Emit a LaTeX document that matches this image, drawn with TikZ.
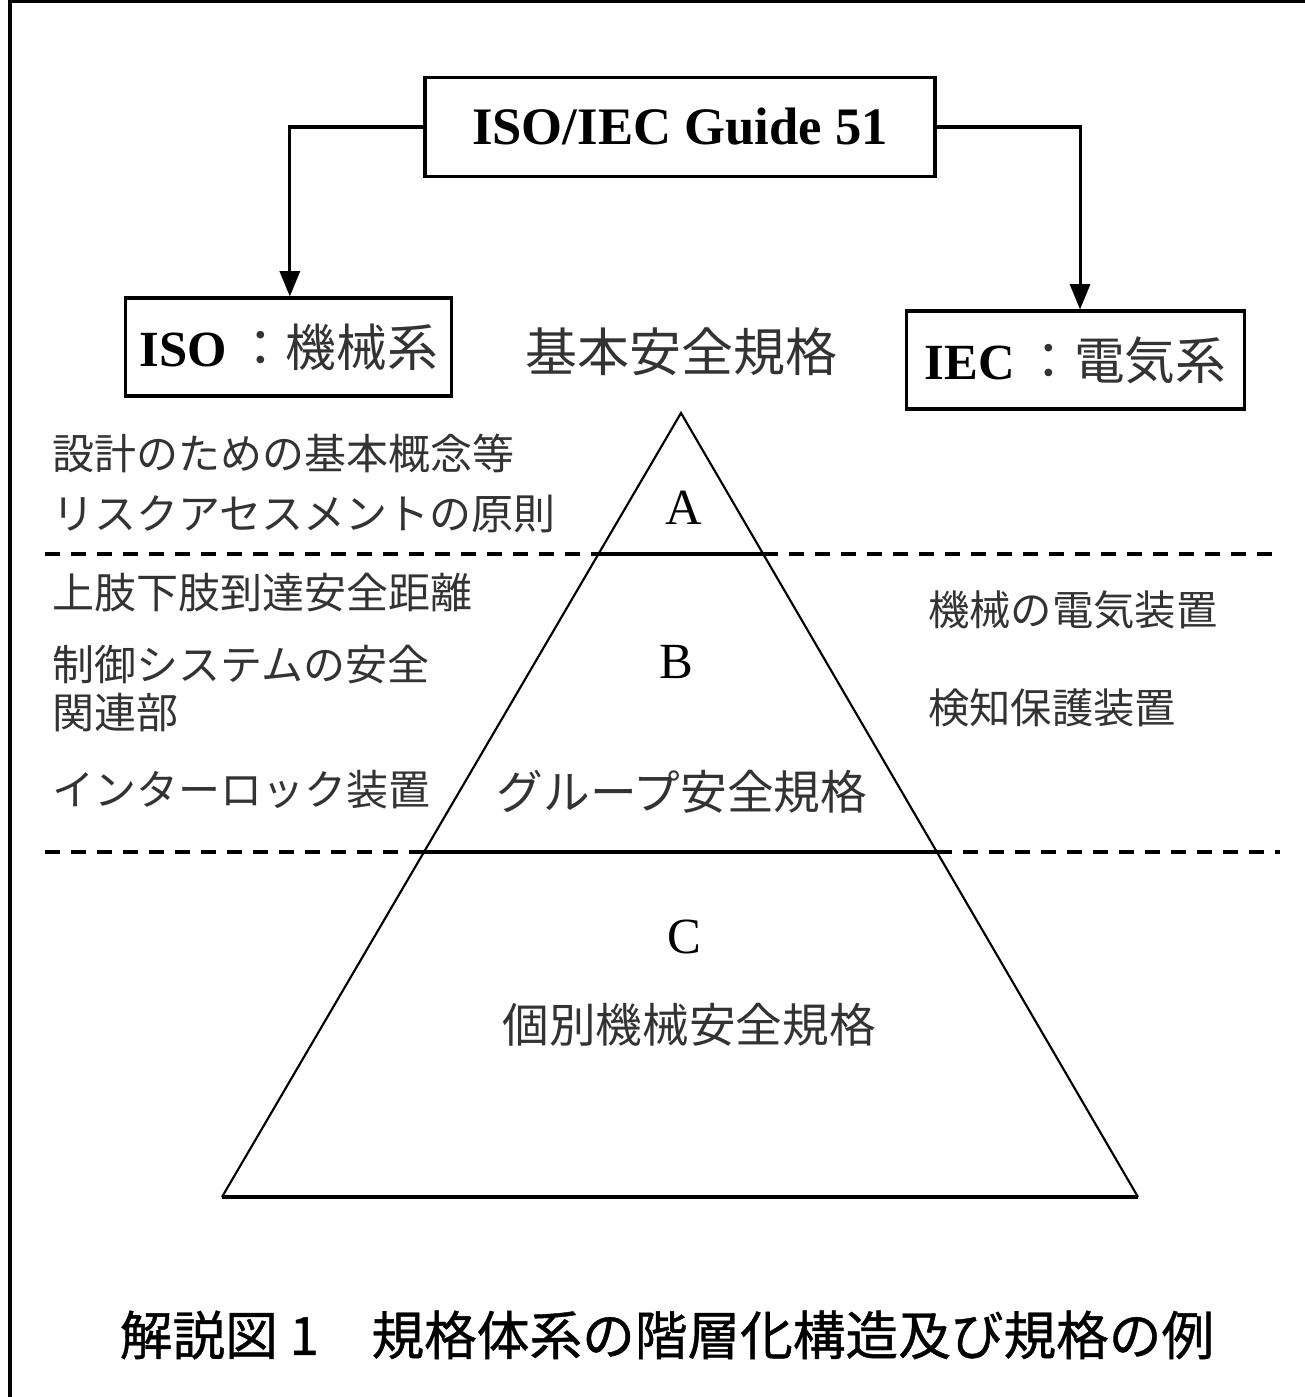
\documentclass[tikz,border=0pt]{standalone}
\usepackage{fontspec}
\setmainfont{Liberation Serif}
\newfontfamily\jp{Noto Sans CJK JP}
\newfontfamily\jpmed[FakeBold=0.8]{Noto Sans CJK JP}
\usetikzlibrary{arrows.meta}
\definecolor{jpgray}{gray}{0.2}
\begin{document}
\begin{tikzpicture}[x=0.75pt,y=-0.75pt,
  box/.style={draw,line width=2.3pt,inner sep=0pt},
  conn/.style={line width=2.3pt,-{Triangle[length=19pt,width=15pt]}},
  sideline/.style={line width=1.6pt,line join=miter},
  tier/.style={line width=2.3pt},
  dashline/.style={line width=2.3pt,dash pattern=on 11pt off 8.5pt},
  lbl/.style={inner sep=0pt,anchor=west,text=jpgray,font=\jp\fontsize{31.5}{36}\selectfont},
  rlbl/.style={inner sep=0pt,anchor=west,text=jpgray,font=\jp\fontsize{31}{36}\selectfont},
  letter/.style={inner sep=0pt,font=\fontsize{38}{44}\selectfont},
  inlbl/.style={inner sep=0pt,text=jpgray,font=\jp\fontsize{35}{40}\selectfont}]
\useasboundingbox (0,0) rectangle (1305,1397);
% frame
\draw[line width=2.3pt] (10,1405) -- (10,1) -- (1310,1);
% top boxes
\node[box,minimum width=382.5pt,minimum height=74pt] (guide) at (680,127)
  {\fontsize{39.5}{44}\selectfont\bfseries ISO/IEC Guide 51};
\node[box,minimum width=245pt,minimum height=73.5pt] (iso) at (288.5,347)
  {\fontsize{38}{44}\selectfont\bfseries ISO\,{\jp\mdseries\color{jpgray}：機械系}};
\node[box,minimum width=253pt,minimum height=73.5pt] (iec) at (1075.5,360)
  {\fontsize{38}{44}\selectfont\bfseries IEC\,{\jp\mdseries\color{jpgray}：電気系}};
\draw[conn] (guide.west) -| ([xshift=1pt]iso.north);
\draw[conn] (guide.east) -| ([xshift=3.4pt]iec.north);
\node[inlbl,font=\jp\fontsize{39}{44}\selectfont] (basic) at (681,352) {基本安全規格};
% pyramid
\coordinate (apex) at (681,413);
\coordinate (bl) at (222,1197);
\coordinate (br) at (1138,1197);
\coordinate (al) at (598.4,554);
\coordinate (ar) at (763.2,554);
\coordinate (bbl) at (424,852);
\coordinate (bbr) at (937,852);
\coordinate (dA1) at (45,554);
\coordinate (dA2) at (1280,554);
\coordinate (dB1) at (45,852);
\coordinate (dB2) at (1280,852);
\draw[sideline] (bl) -- (apex) -- (br);
\draw[tier] (bl) -- (br);
\draw[tier] (al) -- (ar);
\draw[tier] (bbl) -- (bbr);
\draw[dashline] (dA1) -- (al);
\draw[dashline] (ar) -- (dA2);
\draw[dashline] (dB1) -- (bbl);
\draw[dashline] (bbr) -- (dB2);
% tier letters and labels
\node[letter] (A) at (684,508) {A};
\node[letter] (B) at (676,662) {B};
\node[letter] (C) at (684,937) {C};
\node[inlbl] (group) at (682,792) {グループ安全規格};
\node[inlbl] (indiv) at (689,1025) {個別機械安全規格};
% left labels
\node[lbl] (l1) at (52,453) {設計のための基本概念等};
\node[lbl] (l2) at (52,514) {リスクアセスメントの原則};
\node[lbl] (l3) at (52,593) {上肢下肢到達安全距離};
\node[lbl] (l4) at (52,665) {制御システムの安全};
\node[lbl] (l5) at (52,713) {関連部};
\node[lbl] (l6) at (52,790) {インターロック装置};
% right labels
\node[rlbl] (r1) at (928,610) {機械の電気装置};
\node[rlbl] (r2) at (928,708) {検知保護装置};
% caption
\node[inner sep=0pt,font=\jpmed\fontsize{39.5}{44}\selectfont] (cap) at (667,1335)
  {解説図 1　規格体系の階層化構造及び規格の例};
\end{tikzpicture}
\end{document}
